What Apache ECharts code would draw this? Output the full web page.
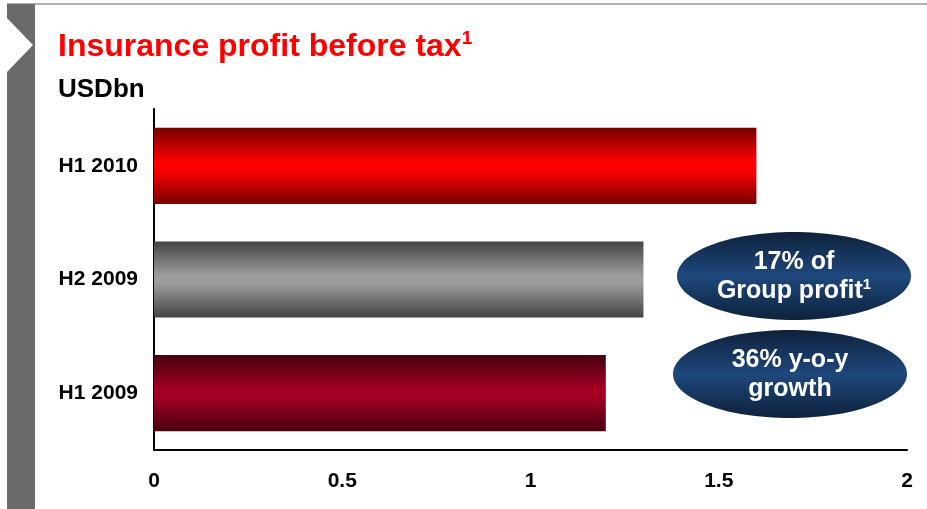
<!DOCTYPE html>
<html>
<head>
<meta charset="utf-8">
<script src="https://cdn.jsdelivr.net/npm/echarts@6/dist/echarts.min.js"></script>
<style>
  html, body { margin: 0; padding: 0; background: #ffffff; }
  #chart { width: 927px; height: 509px; }
</style>
</head>
<body>
<div id="chart"></div>
<script>
// Insurance profit before tax, USD billions, by half-year
const categories = ['H1 2010', 'H2 2009', 'H1 2009'];
const values = [1.6, 1.3, 1.2];
const xTicks = [0, 0.5, 1, 1.5, 2];

// edge / centre colours of each bar's shaded fill
const barEdgeColors = ['#780000', '#444444', '#480010'];
const barMidColors = ['#ff0000', '#9c9c9c', '#a40022'];

// callout bubbles: main lines and optional footnote marker on the last line
const calloutLines = [['17% of', 'Group profit'], ['36% y-o-y', 'growth']];
const calloutNotes = ['1', ''];

const FONT = 'Liberation Sans, Arial, sans-serif';

function shaded(edge, mid) {
  return new echarts.graphic.LinearGradient(0, 0, 0, 1, [
    { offset: 0, color: edge },
    { offset: 0.45, color: mid },
    { offset: 0.55, color: mid },
    { offset: 1, color: edge }
  ]);
}

const chart = echarts.init(document.getElementById('chart'), null, { renderer: 'canvas' });

const bubbleFill = new echarts.graphic.LinearGradient(0, 0, 0, 1, [
  { offset: 0, color: '#0e213b' },
  { offset: 0.5, color: '#1e487c' },
  { offset: 1, color: '#0e213b' }
]);

const bubbleCentres = [[794, 276], [790, 374]];

const bubbles = calloutLines.map((lines, i) => {
  const [cx, cy] = bubbleCentres[i];
  const text = lines.map((l, j) =>
    '{m|' + l + '}' + (j === lines.length - 1 && calloutNotes[i] ? '{s|' + calloutNotes[i] + '}' : '')
  ).join('\n');
  return {
    type: 'group',
    children: [
      {
        type: 'ellipse',
        shape: { cx: cx, cy: cy, rx: 117, ry: 44 },
        style: { fill: bubbleFill }
      },
      {
        type: 'text',
        x: cx,
        y: cy + 1,
        style: {
          text: text,
          align: 'center',
          verticalAlign: 'middle',
          fill: '#ffffff',
          rich: {
            m: { fontFamily: FONT, fontSize: 25, fontWeight: 'bold', fill: '#ffffff', lineHeight: 29 },
            s: { fontFamily: FONT, fontSize: 15, fontWeight: 'bold', fill: '#ffffff', verticalAlign: 'top' }
          }
        },
        z: 10
      }
    ]
  };
});

const option = {
  backgroundColor: '#ffffff',
  animation: false,
  graphic: [
    // frame: top rule, grey side strip with its notch
    { type: 'line', shape: { x1: 7, y1: 4, x2: 927, y2: 4 }, style: { stroke: '#b0b0b0', lineWidth: 2 } },
    { type: 'rect', shape: { x: 7, y: 4, width: 28, height: 505 }, style: { fill: '#6a6a6a' } },
    { type: 'polygon', shape: { points: [[7, 18], [33, 45], [7, 72]] }, style: { fill: '#ffffff' } },
    {
      type: 'text', x: 58, y: 47,
      style: {
        text: '{t|Insurance profit before tax}{s|1}',
        verticalAlign: 'middle',
        rich: {
          t: { fontFamily: FONT, fontSize: 32, fontWeight: 'bold', fill: '#ff0000', lineHeight: 35 },
          s: { fontFamily: FONT, fontSize: 19, fontWeight: 'bold', fill: '#ff0000', verticalAlign: 'top' }
        }
      }
    },
    {
      type: 'text', x: 58, y: 90,
      style: { text: 'USDbn', fontFamily: FONT, fontSize: 26, fontWeight: 'bold', fill: '#000000', verticalAlign: 'middle' }
    }
  ].concat(bubbles),
  grid: { left: 154, right: 20, top: 109, bottom: 59, containLabel: false },
  xAxis: {
    type: 'value',
    min: xTicks[0],
    max: xTicks[xTicks.length - 1],
    interval: xTicks[1] - xTicks[0],
    axisLine: { show: true, lineStyle: { color: '#000000', width: 2 } },
    axisTick: { show: false },
    splitLine: { show: false },
    axisLabel: {
      margin: 21,
      fontFamily: FONT, fontSize: 21, fontWeight: 'bold', color: '#000000'
    }
  },
  yAxis: {
    type: 'category',
    data: categories,
    inverse: true,
    axisLine: { show: true, lineStyle: { color: '#000000', width: 2 } },
    axisTick: { show: false },
    axisLabel: {
      margin: 16,
      fontFamily: FONT, fontSize: 21, fontWeight: 'bold', color: '#000000'
    }
  },
  series: [{
    type: 'bar',
    barWidth: '67%',
    data: values.map((v, i) => ({
      value: v,
      itemStyle: { color: shaded(barEdgeColors[i], barMidColors[i]) }
    }))
  }]
};

chart.setOption(option);
</script>
</body>
</html>
